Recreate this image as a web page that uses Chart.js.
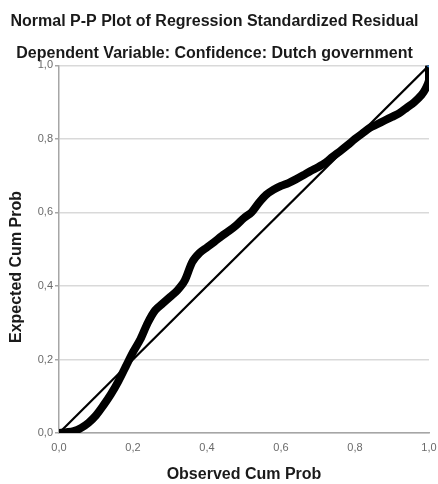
<!DOCTYPE html>
<html>
<head>
<meta charset="utf-8">
<script src="https://cdn.jsdelivr.net/npm/chart.js@4/dist/chart.umd.min.js"></script>
<style>
  html, body { margin: 0; padding: 0; background: #fff; }
  #wrap { width: 438px; height: 484px; position: relative; }
</style>
</head>
<body>
<div id="wrap"><canvas id="pp" width="438" height="484"></canvas></div>
<script>
// Observed vs expected cumulative probabilities of the standardized residuals
const observedCumProb = [
  0.000, 0.020, 0.040, 0.060, 0.080, 0.100, 0.120, 0.140, 0.160, 0.180,
  0.200, 0.220, 0.240, 0.260, 0.280, 0.300, 0.320, 0.340, 0.360, 0.380,
  0.400, 0.420, 0.440, 0.460, 0.480, 0.500, 0.520, 0.540, 0.560, 0.580,
  0.600, 0.620, 0.640, 0.660, 0.680, 0.700, 0.720, 0.740, 0.760, 0.780,
  0.800, 0.820, 0.840, 0.860, 0.880, 0.900, 0.920, 0.940, 0.960, 0.980,
  0.990, 1.000, 1.000
];
const expectedCumProb = [
  0.000, 0.002, 0.005, 0.014, 0.028, 0.048, 0.075, 0.105, 0.140, 0.180,
  0.220, 0.255, 0.300, 0.334, 0.352, 0.370, 0.388, 0.415, 0.465, 0.490,
  0.505, 0.520, 0.536, 0.550, 0.566, 0.585, 0.600, 0.626, 0.648, 0.662,
  0.672, 0.680, 0.690, 0.701, 0.713, 0.723, 0.735, 0.752, 0.767, 0.783,
  0.800, 0.815, 0.830, 0.840, 0.850, 0.860, 0.870, 0.885, 0.900, 0.920,
  0.935, 0.960, 0.995
];
// Diagonal reference line (perfect normality)
const referenceX = [0, 1];
const referenceY = [0, 1];
// Last plotted case
const lastCaseX = [1.0];
const lastCaseY = [1.0];
// Axis tick labels (decimal comma)
const tickLabels = ['0,0', '0,2', '0,4', '0,6', '0,8', '1,0'];

const toPoints = (xs, ys) => xs.map((x, i) => ({ x: x, y: ys[i] }));
const tickText = (v) => {
  const i = Math.round(v / 0.2);
  return tickLabels[i] !== undefined ? tickLabels[i] : '';
};

const FONT = '"Liberation Sans", Arial, sans-serif';

// Rotated y-axis title, placed in the reserved left margin
const yTitlePlugin = {
  id: 'yTitle',
  afterDraw(chart) {
    const ctx = chart.ctx;
    ctx.save();
    ctx.translate(17, 267);
    ctx.rotate(-Math.PI / 2);
    ctx.font = 'bold 16px ' + FONT;
    ctx.fillStyle = '#1a1a1a';
    ctx.textAlign = 'center';
    ctx.textBaseline = 'middle';
    ctx.fillText('Expected Cum Prob', 0, 0);
    ctx.restore();
  }
};

new Chart(document.getElementById('pp'), {
  type: 'scatter',
  data: {
    datasets: [
      {
        data: toPoints(referenceX, referenceY),
        showLine: true,
        borderColor: '#000',
        borderWidth: 2.2,
        pointRadius: 0,
        order: 2
      },
      {
        data: toPoints(observedCumProb, expectedCumProb),
        showLine: true,
        borderColor: '#000',
        borderWidth: 8,
        borderJoinStyle: 'round',
        borderCapStyle: 'round',
        tension: 0.3,
        pointRadius: 0,
        order: 1
      },
      {
        data: toPoints(lastCaseX, lastCaseY),
        pointRadius: 2,
        pointBackgroundColor: '#3a8ad8',
        pointBorderWidth: 0,
        order: 0
      }
    ]
  },
  options: {
    responsive: false,
    animation: false,
    events: [],
    layout: { padding: { left: 0, right: 9, top: 0, bottom: 0 } },
    plugins: {
      legend: { display: false },
      tooltip: { enabled: false },
      title: {
        display: true,
        text: 'Normal P-P Plot of Regression Standardized Residual',
        color: '#1a1a1a',
        font: { family: FONT, size: 16, weight: 'bold', lineHeight: 1.2 },
        padding: { top: 12, bottom: 12 }
      },
      subtitle: {
        display: true,
        text: 'Dependent Variable: Confidence: Dutch government',
        color: '#1a1a1a',
        font: { family: FONT, size: 16, weight: 'bold', lineHeight: 1.2 },
        padding: { top: 1, bottom: 2 }
      }
    },
    scales: {
      x: {
        type: 'linear',
        min: 0,
        max: 1,
        afterFit(scale) {
          scale.height = 51;
          scale.paddingLeft = 0;
          scale.paddingRight = 0;
        },
        grid: { display: false, drawTicks: false },
        border: { display: true, color: '#a6a6a6', width: 1.5 },
        ticks: {
          stepSize: 0.2,
          padding: 8,
          color: '#6a6a6a',
          font: { family: FONT, size: 11 },
          callback: tickText
        },
        title: {
          display: true,
          text: 'Observed Cum Prob',
          color: '#1a1a1a',
          font: { family: FONT, size: 16, weight: 'bold', lineHeight: 1.2 },
          padding: { top: 0, bottom: 0 }
        }
      },
      y: {
        type: 'linear',
        min: 0,
        max: 1,
        afterFit(scale) { scale.width = 59; },
        grid: {
          color: '#d9d9d9',
          lineWidth: 1.5,
          drawTicks: true,
          tickLength: 4,
          tickColor: '#a6a6a6'
        },
        border: { display: true, color: '#a6a6a6', width: 1.5 },
        ticks: {
          stepSize: 0.2,
          padding: 2,
          color: '#6a6a6a',
          font: { family: FONT, size: 11 },
          callback: tickText
        }
      }
    }
  },
  plugins: [yTitlePlugin]
});
</script>
</body>
</html>
